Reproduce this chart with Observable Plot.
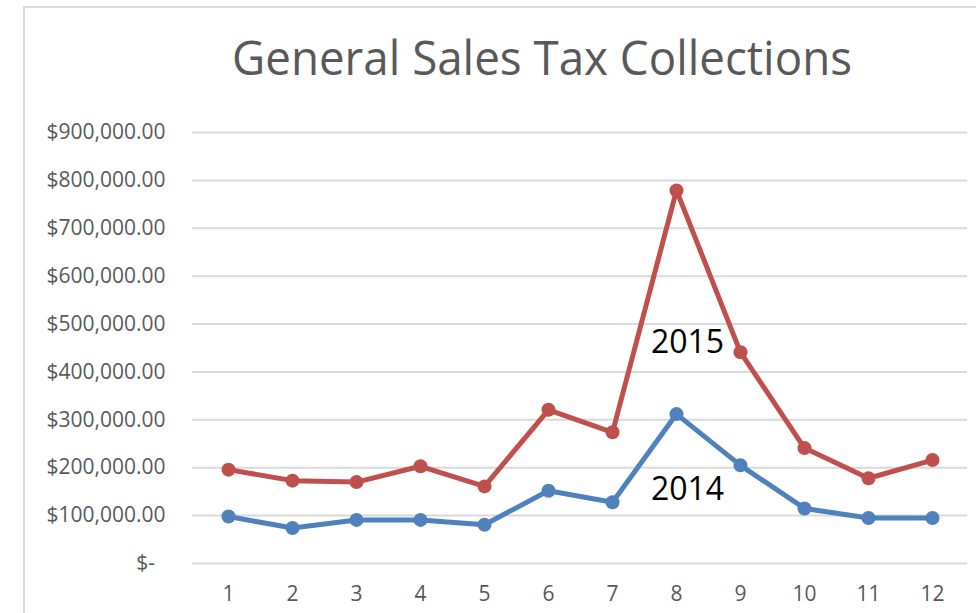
<!DOCTYPE html>
<html>
<head>
<meta charset="utf-8">
<script src="https://cdn.jsdelivr.net/npm/d3@7"></script>
<script src="https://cdn.jsdelivr.net/npm/@observablehq/plot@0.6"></script>
<style>
  html, body { margin: 0; padding: 0; background: #fff; }
  #wrap { position: relative; width: 976px; height: 613px; overflow: hidden; }
  #frame { position: absolute; left: 23px; top: 6px; width: 1000px; height: 700px;
           border-left: 2px solid #d9d9d9; border-top: 2px solid #d9d9d9; box-sizing: border-box; }
  #title { position: absolute; left: 0; top: 0; width: 976px; height: 100px; }
  #title span { position: absolute; left: 232px; top: 33px; font-family: "Open Sans", sans-serif;
                font-size: 48px; color: #595959; white-space: nowrap; transform-origin: 0 0; line-height: 1; }
  #chart { position: absolute; left: 0; top: 100px; }
</style>
</head>
<body>
<div id="wrap">
  <div id="frame"></div>
  <div id="title"><span id="t">General Sales Tax Collections</span></div>
  <div id="chart"></div>
</div>
<script>
const months = [1, 2, 3, 4, 5, 6, 7, 8, 9, 10, 11, 12];
const sales2014 = [98000, 74000, 91000, 91000, 81000, 152000, 128000, 312000, 205000, 115000, 95000, 95000];
const sales2015 = [196000, 173000, 170000, 203000, 161000, 321000, 274000, 779000, 441000, 241000, 178000, 216000];
const yTicks = [0, 100000, 200000, 300000, 400000, 500000, 600000, 700000, 800000, 900000];
const seriesNames = ["2014", "2015"];
const labelMonth = [8, 8];
const labelValue = [154000, 461000];

const colors = {"2014": "#4F81BD", "2015": "#C0504D"};
const rows = [];
months.forEach((m, i) => {
  rows.push({month: m, value: sales2014[i], series: "2014"});
  rows.push({month: m, value: sales2015[i], series: "2015"});
});
const labels = seriesNames.map((s, i) => ({series: s, month: labelMonth[i], value: labelValue[i]}));

const fmt = v => v === 0 ? "$-\u2002" : "$" + d3.format(",.2f")(v);

const chart = Plot.plot({
  width: 976,
  height: 513,
  marginLeft: 192,
  marginRight: 9,
  marginTop: 32,
  marginBottom: 50,
  style: {fontFamily: "Open Sans, sans-serif", fontSize: "21px", color: "#595959", background: "transparent"},
  x: {type: "point", domain: months, padding: 0.5, label: null},
  y: {domain: [0, 900000], ticks: yTicks, label: null},
  marks: [
    Plot.ruleY(yTicks, {stroke: "#d9d9d9", strokeWidth: 2}),
    Plot.axisY({ticks: yTicks, tickFormat: fmt, tickSize: 0, tickPadding: 27, fontSize: 21, fill: "#595959", label: null}),
    Plot.axisX({tickSize: 0, tickPadding: 23, fontSize: 21, fill: "#595959", label: null}),
    Plot.line(rows, {x: "month", y: "value", z: "series", stroke: d => colors[d.series], strokeWidth: 5, strokeLinejoin: "round"}),
    Plot.dot(rows, {x: "month", y: "value", fill: d => colors[d.series], r: 7, stroke: "none"}),
    Plot.text(labels, {x: "month", y: "value", text: "series", dx: 11, fontSize: 32, fill: "#000", fontFamily: "Open Sans, sans-serif"})
  ]
});
document.getElementById("chart").appendChild(chart);

const t = document.getElementById("t");
const w = t.getBoundingClientRect().width;
t.style.transform = `scaleX(${620 / w})`;
</script>
</body>
</html>
